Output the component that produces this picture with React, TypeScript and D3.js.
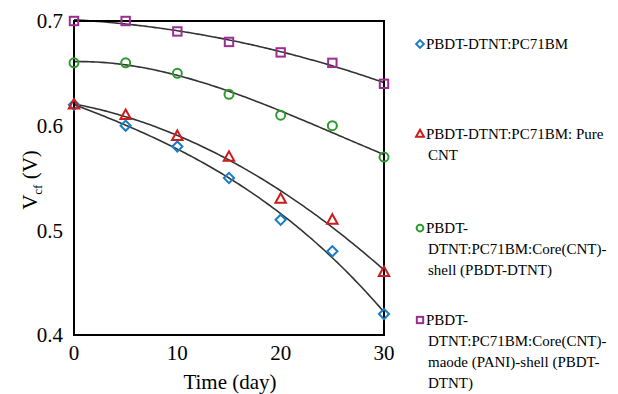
import React from "react";
import * as d3 from "d3";

const days = [0, 5, 10, 15, 20, 25, 30];
const pure = [0.62, 0.6, 0.58, 0.55, 0.51, 0.48, 0.42];
const pureCnt = [0.62, 0.61, 0.59, 0.57, 0.53, 0.51, 0.46];
const coreShell = [0.66, 0.66, 0.65, 0.63, 0.61, 0.6, 0.57];
const coreMaode = [0.7, 0.7, 0.69, 0.68, 0.67, 0.66, 0.64];
const seriesNames = [
  ["PBDT-DTNT:PC71BM"],
  ["PBDT-DTNT:PC71BM: Pure", "CNT"],
  ["PBDT-", "DTNT:PC71BM:Core(CNT)-", "shell (PBDT-DTNT)"],
  ["PBDT-", "DTNT:PC71BM:Core(CNT)-", "maode (PANI)-shell (PBDT-", "DTNT)"],
];
const yTicks = [0.4, 0.5, 0.6, 0.7];
const xTicks = [0, 10, 20, 30];

const colors = ["#1a7cc4", "#cc1c1c", "#2e9a2e", "#9c2d94"];
const allSeries = [pure, pureCnt, coreShell, coreMaode];

function polyFit(xs: number[], ys: number[], deg: number): number[] {
  const n = deg + 1;
  const A: number[][] = Array.from({ length: n }, () => new Array(n + 1).fill(0));
  for (let i = 0; i < xs.length; i++) {
    for (let r = 0; r < n; r++) {
      for (let c = 0; c < n; c++) A[r][c] += Math.pow(xs[i], r + c);
      A[r][n] += ys[i] * Math.pow(xs[i], r);
    }
  }
  for (let p = 0; p < n; p++) {
    let m = p;
    for (let r = p + 1; r < n; r++) if (Math.abs(A[r][p]) > Math.abs(A[m][p])) m = r;
    [A[p], A[m]] = [A[m], A[p]];
    for (let r = 0; r < n; r++) {
      if (r === p) continue;
      const f = A[r][p] / A[p][p];
      for (let c = p; c <= n; c++) A[r][c] -= f * A[p][c];
    }
  }
  return A.map((row, i) => row[n] / row[i]);
}

function Marker({ i, cx, cy, s }: { i: number; cx: number; cy: number; s: number }) {
  const c = colors[i];
  if (i === 0)
    return <rect x={cx - s * 0.36} y={cy - s * 0.36} width={s * 0.72} height={s * 0.72} transform={`rotate(45,${cx},${cy})`} fill="none" stroke={c} strokeWidth={2} />;
  if (i === 1) {
    const h = s * 0.95;
    return <path d={`M${cx},${cy - h * 0.6}L${cx + h * 0.55},${cy + h * 0.4}L${cx - h * 0.55},${cy + h * 0.4}Z`} fill="none" stroke={c} strokeWidth={2} strokeLinejoin="miter" />;
  }
  if (i === 2) return <circle cx={cx} cy={cy} r={s * 0.45} fill="none" stroke={c} strokeWidth={2} />;
  return <rect x={cx - s * 0.42} y={cy - s * 0.42} width={s * 0.84} height={s * 0.84} fill="none" stroke={c} strokeWidth={2} />;
}

export default function App() {
  const W = 618, H = 394;
  const x = d3.scaleLinear().domain([0, 30]).range([74, 384]);
  const y = d3.scaleLinear().domain([0.4, 0.7]).range([335, 21]);
  const line = d3.line<[number, number]>().x(d => x(d[0])).y(d => y(d[1])).curve(d3.curveBasis);
  const fine = d3.range(0, 30.01, 0.25);
  return (
    <svg width={W} height={H} fontFamily="Liberation Serif" style={{ position: "absolute", left: 0, top: 0, fontFamily: "Liberation Serif" }}>
      <rect width={W} height={H} fill="#fff" />
      {allSeries.map((s, i) => {
        const co = polyFit(days, s, 3);
        const pts = fine.map(t => [t, co.reduce((a, c, k) => a + c * Math.pow(t, k), 0)] as [number, number]);
        return <path key={"f" + i} d={line(pts) || ""} fill="none" stroke="#333" strokeWidth={1.6} />;
      })}
      <rect x={74} y={21} width={310} height={314} fill="none" stroke="#000" strokeWidth={2} />
      {allSeries.map((s, i) =>
        s.map((v, j) => <Marker key={`m${i}-${j}`} i={i} cx={x(days[j])} cy={y(v)} s={10} />)
      )}
      <g fontSize={21}>
        {yTicks.map(t => (
          <text key={"y" + t} x={63} y={y(t)} dy="0.35em" textAnchor="end">
            {t.toFixed(1)}
          </text>
        ))}
        {xTicks.map(t => (
          <text key={"x" + t} x={x(t)} y={360} textAnchor="middle">
            {t}
          </text>
        ))}
        <text x={230} y={389} textAnchor="middle">Time (day)</text>
        <text transform="translate(37,180) rotate(-90)" textAnchor="middle">
          V<tspan fontSize={13} dy={5}>cf</tspan><tspan dy={-5}> (V)</tspan>
        </text>
      </g>
      {seriesNames.map((lines, i) => {
        const y0 = [44, 134, 228, 320][i];
        return (
          <g key={"l" + i}>
            <Marker i={i} cx={420} cy={y0} s={7.5} />
            {lines.map((t, k) => (
              <text key={k} x={k === 0 ? 426 : 428} y={y0 + 21 * k} dy="0.35em" fontSize={15}>
                {t}
              </text>
            ))}
          </g>
        );
      })}
    </svg>
  );
}
